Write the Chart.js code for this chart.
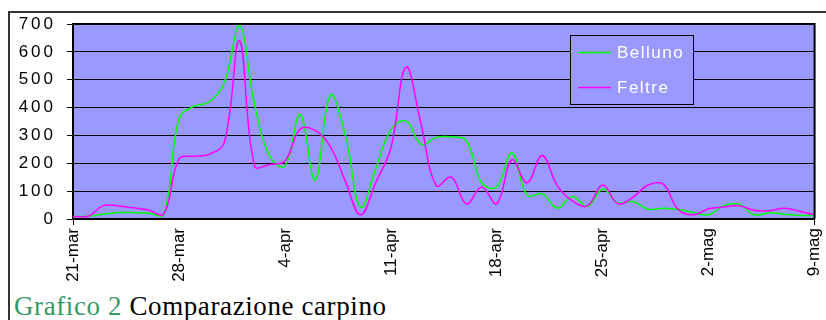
<!DOCTYPE html>
<html lang="it">

<head>
  <meta charset="UTF-8" />
  <title>Grafico 2 Comparazione carpino</title>
  <script src="https://cdn.jsdelivr.net/npm/chart.js"></script>
  <style>
    html, body { margin: 0; padding: 0; background: #fff; }
    body { width: 826px; height: 320px; position: relative; overflow: hidden; }
    #frame { position: absolute; left: 8px; top: 11px; width: 900px; height: 400px;
      border-left: 2px solid #333; border-top: 2px solid #333; }
    #wrap { position: absolute; left: 0; top: 0; width: 838px; height: 290px; }
    #caption { position: absolute; left: 14px; top: 293px; font: 27px "Liberation Serif", serif;
      letter-spacing: 0.6px; line-height: 27px; color: #000; white-space: nowrap; }
    #caption span { color: #339966; }
  </style>
</head>

<body>
  <div id="frame"></div>
  <div id="wrap"><canvas id="pollenChart" width="838" height="290"></canvas></div>
  <div id="caption"><span>Grafico 2</span> Comparazione carpino</div>

  <script>
    const dates = [
      '21-mar', '22-mar', '23-mar', '24-mar', '25-mar', '26-mar', '27-mar', '28-mar', '29-mar', '30-mar', '31-mar',
      '1-apr', '2-apr', '3-apr', '4-apr', '5-apr', '6-apr', '7-apr', '8-apr', '9-apr', '10-apr',
      '11-apr', '12-apr', '13-apr', '14-apr', '15-apr', '16-apr', '17-apr', '18-apr', '19-apr', '20-apr',
      '21-apr', '22-apr', '23-apr', '24-apr', '25-apr', '26-apr', '27-apr', '28-apr', '29-apr', '30-apr',
      '1-mag', '2-mag', '3-mag', '4-mag', '5-mag', '6-mag', '7-mag', '8-mag', '9-mag'
    ];
    const belluno = [9, 10, 17, 23, 23, 21, 15, 360, 405, 420, 490, 695, 410, 225, 190, 375, 140, 445, 300, 42,
      180, 320, 352, 268, 293, 295, 280, 130, 115, 237, 85, 90, 39, 81, 45, 108, 58, 63, 35, 39,
      33, 23, 15, 48, 54, 15, 22, 17, 13, 12];
    const feltre = [9, 10, 48, 47, 40, 32, 18, 215, 225, 232, 275, 640, 190, 196, 208, 322, 318, 260, 135, 15,
      130, 255, 545, 340, 120, 150, 54, 115, 55, 213, 130, 228, 120, 65, 48, 122, 55, 78, 122, 125,
      33, 15, 37, 43, 48, 31, 30, 39, 28, 15];
    const tickEvery = 7;

    const plotBg = {
      id: 'plotBg',
      beforeDraw(chart) {
        const { ctx, chartArea: a } = chart;
        ctx.save();
        ctx.fillStyle = '#9999FF';
        ctx.fillRect(a.left, a.top, a.right - a.left, a.bottom - a.top);
        ctx.restore();
        // spaced y labels
        const s = chart.scales.y;
        if (s && !s._spaced) {
          const orig = s.drawLabels.bind(s);
          s.drawLabels = function (area) {
            this.ctx.save();
            this.ctx.letterSpacing = '3px';
            orig(area);
            this.ctx.restore();
          };
          s._spaced = true;
        }
      },
      afterDraw(chart) {
        const { ctx, chartArea: a } = chart;
        ctx.save();
        ctx.strokeStyle = '#000';
        ctx.lineWidth = 2;
        ctx.beginPath();
        ctx.moveTo(a.left, a.top);
        ctx.lineTo(a.right, a.top);
        ctx.lineTo(a.right, a.bottom);
        ctx.stroke();

        // legend box
        ctx.fillStyle = '#9999FF';
        ctx.fillRect(570, 35, 123, 69);
        ctx.lineWidth = 1;
        ctx.strokeRect(570.5, 35.5, 123, 69);
        const items = [['Belluno', '#00FF00', 52.5], ['Feltre', '#FF00FF', 87.5]];
        ctx.font = '17px "Liberation Sans", Arial, sans-serif';
        ctx.letterSpacing = '1.5px';
        ctx.textBaseline = 'middle';
        items.forEach(([name, col, y]) => {
          ctx.strokeStyle = col;
          ctx.lineWidth = 1.5;
          ctx.beginPath();
          ctx.moveTo(578, y);
          ctx.lineTo(611, y);
          ctx.stroke();
          ctx.fillStyle = '#fff';
          ctx.fillText(name, 617, y + 1);
        });
        ctx.restore();
      }
    };

    new Chart(document.getElementById('pollenChart'), {
      type: 'line',
      data: {
        labels: dates,
        datasets: [
          { label: 'Belluno', data: belluno, borderColor: '#00FF00', borderWidth: 1.5, pointRadius: 0, tension: 0.4, order: 1 },
          { label: 'Feltre', data: feltre, borderColor: '#FF00FF', borderWidth: 1.5, pointRadius: 0, tension: 0.4, order: 0 }
        ]
      },
      options: {
        responsive: false,
        animation: false,
        devicePixelRatio: 1,
        layout: { padding: { top: 24, right: 1, left: 0, bottom: 0 } },
        plugins: { legend: { display: false }, tooltip: { enabled: false } },
        scales: {
          x: {
            offset: false,
            grid: {
              drawOnChartArea: false,
              drawTicks: true,
              tickLength: 6,
              color: (c) => (c.index % tickEvery === 0 ? '#000' : 'rgba(0,0,0,0)')
            },
            border: { color: '#000', width: 2 },
            ticks: {
              autoSkip: false,
              maxRotation: 90,
              minRotation: 90,
              padding: 3,
              color: '#000',
              font: { family: '"Liberation Sans", Arial, sans-serif', size: 17 },
              callback: (v, i) => (i % tickEvery === 0 ? dates[i] : null)
            },
            afterFit: (s) => { s.height = 71; }
          },
          y: {
            min: 0,
            max: 700,
            grid: { color: '#000', lineWidth: 1, drawTicks: true, tickLength: 6 },
            border: { color: '#000', width: 2 },
            ticks: {
              stepSize: 100,
              padding: 11,
              color: '#000',
              font: { family: '"Liberation Sans", Arial, sans-serif', size: 17 }
            },
            afterFit: (s) => { s.width = 73; }
          }
        }
      },
      plugins: [plotBg]
    });
  </script>
</body>

</html>
